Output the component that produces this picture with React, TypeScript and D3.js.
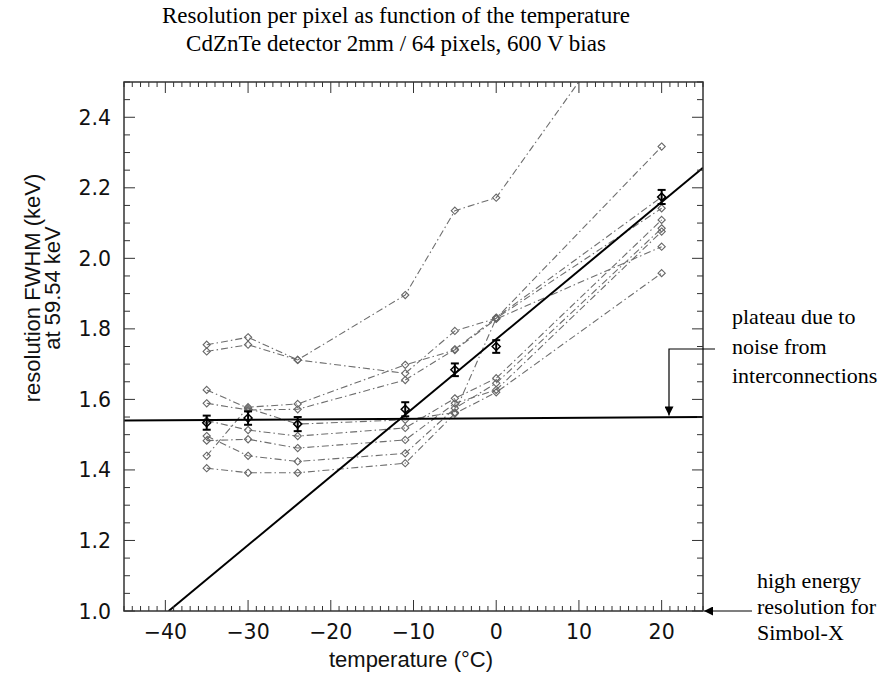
import React from "react";
import * as d3 from "d3";

const temps = [-35, -30, -24, -11, -5, 0, 20];

const pixelSeries: number[][] = [
  [1.755, 1.776, 1.712, 1.896, 2.135, 2.172, 2.83],
  [1.736, 1.755, 1.712, 1.674, 1.794, 1.830, 2.317],
  [1.627, 1.575, 1.530, 1.542, 1.563, 1.830, 2.142],
  [1.589, 1.570, 1.572, 1.655, 1.742, 1.832, 2.174],
  [1.540, 1.513, 1.496, 1.519, 1.603, 1.660, 2.109],
  [1.496, 1.440, 1.424, 1.447, 1.575, 1.646, 2.085],
  [1.483, 1.487, 1.462, 1.485, 1.589, 1.627, 2.076],
  [1.440, 1.578, 1.587, 1.698, 1.740, 1.828, 2.033],
  [1.405, 1.392, 1.392, 1.419, 1.560, 1.620, 1.958],
];

const meanValues = [1.534, 1.547, 1.530, 1.572, 1.684, 1.750, 2.174];
const meanErrors = [0.02, 0.019, 0.02, 0.02, 0.018, 0.018, 0.02];

const plateauLine: [number, number][] = [[-45, 1.540], [25, 1.550]];
const slopeLine: [number, number][] = [[-39.6, 1.0], [25, 2.257]];

const xMajorTicks = [-40, -30, -20, -10, 0, 10, 20];
const yMajorTicks = [1.0, 1.2, 1.4, 1.6, 1.8, 2.0, 2.2, 2.4];

const titleLines = [
  "Resolution per pixel as function of the temperature",
  "CdZnTe detector 2mm / 64 pixels, 600 V bias",
];
const yTitleLines = ["resolution FWHM (keV)", "at 59.54 keV"];
const xTitle = "temperature (°C)";
const plateauNote = ["plateau due to", "noise from", "interconnections"];
const simbolNote = ["high energy", "resolution for", "Simbol-X"];

const W = 888;
const H = 677;
const L = 124, R = 703, T = 82, B = 611;

export default function App() {
  const x = d3.scaleLinear().domain([-45, 25]).range([L, R]);
  const y = d3.scaleLinear().domain([1.0, 2.5]).range([B, T]);

  const xMinor = d3.range(-45, 26, 1).filter((v) => !xMajorTicks.includes(v));
  const yMinor = d3.range(1.0, 2.501, 0.05).filter(
    (v) => !yMajorTicks.some((m) => Math.abs(m - v) < 1e-6)
  );

  const line = d3
    .line<number>()
    .x((_, i) => x(temps[i]))
    .y((d) => y(d));
  const segLine = d3
    .line<[number, number]>()
    .x((d) => x(d[0]))
    .y((d) => y(d[1]));

  const diamond = (cx: number, cy: number, r: number) =>
    `M${cx},${cy - r}L${cx + r},${cy}L${cx},${cy + r}L${cx - r},${cy}Z`;

  const sans = "'Liberation Sans', Arial, sans-serif";
  const tickFont = "'DejaVu Sans', sans-serif";
  const serif = "'Liberation Serif', 'Times New Roman', serif";
  const axisCol = "#333";

  return (
    <svg width={W} height={H} style={{ position: "absolute", left: 0, top: 0, background: "#fff" }}>
      <defs>
        <clipPath id="plotClip">
          <rect x={L} y={T} width={R - L} height={B - T} />
        </clipPath>
        <marker id="arrowHead" viewBox="0 0 10 10" refX="10" refY="5" markerWidth="10" markerHeight="9" markerUnits="userSpaceOnUse" orient="auto">
          <path d="M0,0L10,5L0,10Z" fill="#000" />
        </marker>
      </defs>

      {/* titles */}
      {titleLines.map((t, i) => (
        <text key={t} x={396} y={23 + i * 28} textAnchor="middle" fontFamily={serif} fontSize={23} fill="#000">
          {t}
        </text>
      ))}

      {/* data */}
      <g clipPath="url(#plotClip)">
        {pixelSeries.map((s, si) => (
          <g key={si}>
            <path d={line(s) || ""} fill="none" stroke="#6e6e6e" strokeWidth={1.1} strokeDasharray="7,3,1.5,3" />
            {s.map((v, i) => (
              <path key={i} d={diamond(x(temps[i]), y(v), 3.6)} fill="none" stroke="#666" strokeWidth={1.1} />
            ))}
          </g>
        ))}
        <path d={segLine(plateauLine) || ""} stroke="#000" strokeWidth={2} fill="none" />
        <path d={segLine(slopeLine) || ""} stroke="#000" strokeWidth={2} fill="none" />
        {meanValues.map((v, i) => {
          const cx = x(temps[i]);
          const y1 = y(v + meanErrors[i]);
          const y2 = y(v - meanErrors[i]);
          return (
            <g key={i} stroke="#000" strokeWidth={2} fill="none">
              <line x1={cx} x2={cx} y1={y1} y2={y2} />
              <line x1={cx - 4} x2={cx + 4} y1={y1} y2={y1} />
              <line x1={cx - 4} x2={cx + 4} y1={y2} y2={y2} />
              <path d={diamond(cx, y(v), 4)} strokeWidth={1.5} />
            </g>
          );
        })}
      </g>

      {/* frame */}
      <rect x={L} y={T} width={R - L} height={B - T} fill="none" stroke={axisCol} strokeWidth={1.5} />

      {/* ticks */}
      <g stroke={axisCol} strokeWidth={1}>
        {xMajorTicks.map((v) => (
          <g key={v}>
            <line x1={x(v)} x2={x(v)} y1={B} y2={B - 11} />
            <line x1={x(v)} x2={x(v)} y1={T} y2={T + 11} />
          </g>
        ))}
        {xMinor.map((v) => (
          <g key={v}>
            <line x1={x(v)} x2={x(v)} y1={B} y2={B - 5} />
            <line x1={x(v)} x2={x(v)} y1={T} y2={T + 5} />
          </g>
        ))}
        {yMajorTicks.map((v) => (
          <g key={v}>
            <line x1={L} x2={L + 11} y1={y(v)} y2={y(v)} />
            <line x1={R} x2={R - 11} y1={y(v)} y2={y(v)} />
          </g>
        ))}
        {yMinor.map((v) => (
          <g key={v}>
            <line x1={L} x2={L + 6} y1={y(v)} y2={y(v)} />
            <line x1={R} x2={R - 6} y1={y(v)} y2={y(v)} />
          </g>
        ))}
      </g>

      {/* tick labels */}
      {xMajorTicks.map((v) => (
        <text key={v} x={x(v)} y={639} textAnchor="middle" fontFamily={tickFont} fontSize={20.5} fill="#111">
          {v < 0 ? `\u2212${Math.abs(v)}` : `${v}`}
        </text>
      ))}
      {yMajorTicks.map((v) => (
        <text key={v} x={111} y={y(v) + 7.5} textAnchor="end" fontFamily={tickFont} fontSize={20.5} fill="#111">
          {v.toFixed(1)}
        </text>
      ))}

      {/* axis titles */}
      <text x={411} y={667} textAnchor="middle" fontFamily={sans} fontSize={22} fill="#111">
        {xTitle}
      </text>
      {yTitleLines.map((t, i) => (
        <text
          key={t}
          transform={`translate(${40 + i * 20},${288}) rotate(-90)`}
          textAnchor="middle"
          fontFamily={sans}
          fontSize={22}
          fill="#111"
        >
          {t}
        </text>
      ))}

      {/* plateau annotation */}
      <polyline
        points={`${715},${349} ${669},${349} ${669},${y(1.549) - 2}`}
        fill="none"
        stroke="#000"
        strokeWidth={1.2}
        markerEnd="url(#arrowHead)"
      />
      {plateauNote.map((t, i) => (
        <text key={t} x={732} y={324 + i * 29.5} fontFamily={serif} fontSize={22} fill="#000">
          {t}
        </text>
      ))}

      {/* Simbol-X annotation */}
      <line x1={752} y1={y(1.0)} x2={R + 1} y2={y(1.0)} stroke="#000" strokeWidth={1.2} markerEnd="url(#arrowHead)" />
      {simbolNote.map((t, i) => (
        <text key={t} x={757} y={588 + i * 26} fontFamily={serif} fontSize={22} fill="#000">
          {t}
        </text>
      ))}
    </svg>
  );
}
